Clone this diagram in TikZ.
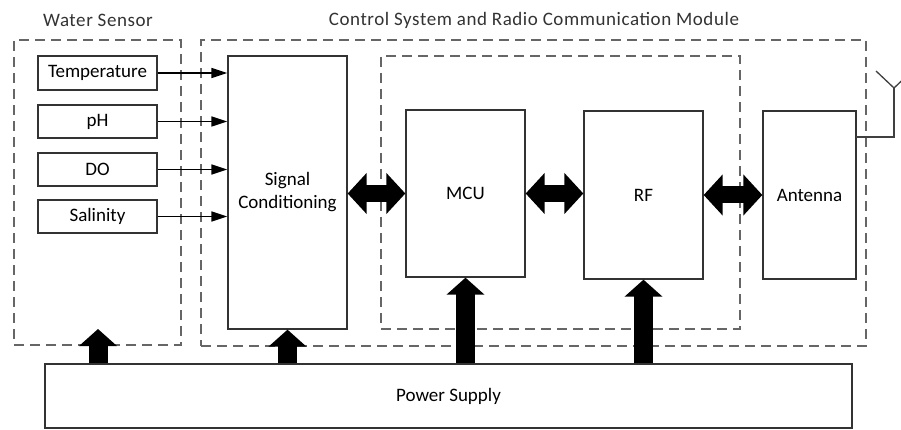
\documentclass[tikz,border=0pt]{standalone}
\usepackage{fontspec}
\setmainfont{Carlito}
\usetikzlibrary{arrows.meta}
\tikzset{
  box/.style={draw=black!80, line width=1.3pt, fill=white, inner sep=0pt, align=center, font=\fontsize{19}{23}\selectfont},
  dbox/.style={draw=black!60, line width=1.5pt, dash pattern=on 10pt off 6pt, inner sep=0pt},
  ttl/.style={font=\fontsize{19}{23}\selectfont\addfontfeatures{LetterSpace=3}, text=black!80},
  sig/.style={draw=black, line width=1.5pt, -{Triangle[length=16pt,width=10pt]}},
  pw/.style={draw=black, line width=19pt, line cap=butt, -{Triangle[length=17pt,width=37pt]}},
  bi/.style={draw=black, line width=17pt, line cap=butt, {Triangle[length=19pt,width=40pt]}-{Triangle[length=19pt,width=40pt]}},
  ant/.style={draw=black!75, line width=1.3pt}
}
\begin{document}
\begin{tikzpicture}[x=1pt,y=-1pt]
\useasboundingbox (0,0) rectangle (901,430);
% dashed group boxes
\node[dbox, minimum width=167pt, minimum height=305pt] (ws) at (97.5,192.5) {};
\node[dbox, minimum width=665pt, minimum height=306pt] (cs) at (533.5,193) {};
\node[dbox, minimum width=359pt, minimum height=273pt] (inner) at (560.5,192.5) {};
% titles
\node[ttl] (wst) at (98,20) {Water Sensor};
\node[ttl] (cst) at (534,20) {Control System and Radio Communication Module};
% sensor boxes
\node[box, minimum width=119pt, minimum height=34pt] (temp) at (97.5,73) {Temperature};
\node[box, minimum width=119pt, minimum height=33pt] (ph) at (97.5,121.5) {pH};
\node[box, minimum width=119pt, minimum height=33pt] (do) at (97.5,169.5) {DO};
\node[box, minimum width=119pt, minimum height=33pt] (sal) at (97.5,216.5) {Salinity};
% main blocks
\node[box, minimum width=119pt, minimum height=273pt] (sc) at (287.5,192.5) {Signal\\Conditioning};
\node[box, minimum width=119pt, minimum height=167pt] (mcu) at (465.5,193.5) {MCU};
\node[box, minimum width=119pt, minimum height=168pt] (rf) at (643.5,195) {RF};
\node[box, minimum width=93pt, minimum height=168pt] (antenna) at (809.5,195) {Antenna};
\node[box, minimum width=807pt, minimum height=64pt] (ps) at (448.5,396) {Power Supply};
% sensor signals
\draw[sig] (temp.east) -- (temp.east -| sc.west);
\draw[sig] (ph.east) -- (ph.east -| sc.west);
\draw[sig] (do.east) -- (do.east -| sc.west);
\draw[sig] (sal.east) -- (sal.east -| sc.west);
% bidirectional buses
\draw[bi] (sc.east |- mcu.west) -- (mcu.west);
\draw[bi] (mcu.east) -- (mcu.east -| rf.west);
\draw[bi] (rf.east) -- (antenna.west);
% power arrows
\coordinate (wsin) at (98,329);
\draw[pw] (ps.north -| wsin) -- (wsin);
\draw[pw] (ps.north -| sc.south) -- (sc.south);
\draw[pw] (ps.north -| mcu.south) -- (mcu.south);
\draw[pw] (ps.north -| rf.south) -- (rf.south);
% antenna symbol
\coordinate (antout) at (856,137);
\coordinate (antbend) at (894,137);
\coordinate (antbase) at (894,88);
\coordinate (antl) at (876,71);
\coordinate (antr) at (912,71);
\draw[ant] (antout) -- (antbend) -- (antbase);
\draw[ant] (antl) -- (antbase) -- (antr);
\end{tikzpicture}
\end{document}
